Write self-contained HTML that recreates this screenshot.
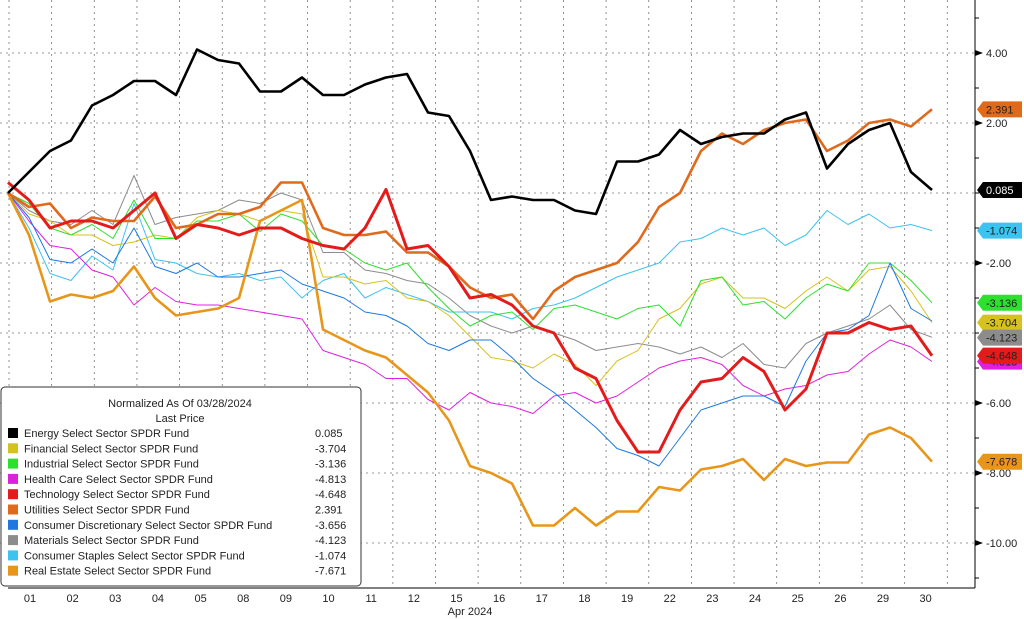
<!DOCTYPE html>
<html><head><meta charset="utf-8"><style>
body{margin:0;background:#fff;width:1024px;height:619px;overflow:hidden;font-family:"Liberation Sans",sans-serif}
svg{display:block}
</style></head><body>
<svg id="chart" width="1024" height="619" viewBox="0 0 1024 619" xmlns="http://www.w3.org/2000/svg">
<g id="grid"></g>
<g id="series"></g>
<g id="axis"></g>
<g id="xaxis"></g>
<g id="tags"></g>
<g id="legend"></g>
</svg>
<script>
const dayLabels=["01","02","03","04","05","08","09","10","11","12","15","16","17","18","19","22","23","24","25","26","29","30"];
const yTicks=[4,2,0,-2,-4,-6,-8,-10];
const yTickLabels=["4.00","2.00","","-2.00","","-6.00","-8.00","-10.00"];
const names=["Energy Select Sector SPDR Fund","Financial Select Sector SPDR Fund","Industrial Select Sector SPDR Fund","Health Care Select Sector SPDR Fund","Technology Select Sector SPDR Fund","Utilities Select Sector SPDR Fund","Consumer Discretionary Select Sector SPDR Fund","Materials Select Sector SPDR Fund","Consumer Staples Select Sector SPDR Fund","Real Estate Select Sector SPDR Fund"];
const colors=["#000000","#d6c21e","#2ee02e","#e020e0","#e41b1b","#e06a1c","#1e78e0","#8c8c8c","#3cc3ef","#e8961a"];
const widths=[2.6,1,1,1,3,2.6,1,1,1,2.6];
const lastValues=["0.085","-3.704","-3.136","-4.813","-4.648","2.391","-3.656","-4.123","-1.074","-7.671"];
const energy=[0,0.6,1.2,1.5,2.5,2.8,3.2,3.2,2.8,4.1,3.8,3.7,2.9,2.9,3.3,2.8,2.8,3.1,3.3,3.4,2.3,2.2,1.2,-0.2,-0.1,-0.2,-0.2,-0.5,-0.6,0.9,0.9,1.1,1.8,1.4,1.6,1.7,1.7,2.1,2.3,0.7,1.4,1.8,2.0,0.6,0.085];
const financial=[0,-0.6,-0.8,-1.2,-1.2,-1.5,-1.4,-1.2,-1.3,-0.7,-0.5,-0.6,-0.8,-0.5,-0.6,-2.4,-2.4,-2.6,-2.5,-3.0,-3.1,-3.5,-4.1,-4.7,-4.8,-5.0,-4.6,-4.9,-5.5,-4.8,-4.5,-3.6,-3.3,-2.6,-2.4,-3.0,-3.0,-3.3,-2.8,-2.4,-2.8,-2.2,-2.1,-2.8,-3.704];
const industrial=[0,-0.3,-1.0,-1.2,-0.9,-1.3,-0.2,-1.3,-1.3,-0.8,-0.8,-0.6,-1.1,-0.6,-0.8,-1.5,-1.6,-2.0,-2.2,-2.0,-2.7,-3.3,-3.8,-3.5,-3.4,-3.9,-3.3,-3.2,-3.4,-3.6,-3.3,-3.2,-3.8,-2.5,-2.4,-3.2,-3.1,-3.6,-3.0,-2.6,-2.8,-2.0,-2.0,-2.5,-3.136];
const healthCare=[0,-0.8,-1.5,-1.6,-2.2,-2.4,-3.2,-2.7,-3.1,-3.2,-3.2,-3.3,-3.4,-3.5,-3.6,-4.5,-4.7,-4.9,-5.3,-5.3,-5.9,-6.2,-5.7,-6.0,-6.1,-6.3,-5.8,-5.7,-6.0,-5.8,-5.4,-5.0,-4.8,-4.7,-4.9,-5.5,-5.8,-5.6,-5.5,-5.2,-5.1,-4.6,-4.2,-4.4,-4.813];
const technology=[0.3,-0.2,-1.0,-0.8,-0.8,-1.0,-0.5,0.0,-1.3,-0.9,-1.0,-1.2,-1.0,-1.0,-1.3,-1.5,-1.6,-1.0,0.1,-1.6,-1.5,-2.1,-3.0,-2.9,-3.2,-3.8,-4.0,-5.0,-5.3,-6.5,-7.4,-7.4,-6.2,-5.4,-5.3,-4.7,-5.1,-6.2,-5.6,-4.0,-4.0,-3.7,-3.9,-3.8,-4.648];
const utilities=[0,-0.4,-0.3,-1.0,-0.7,-0.8,-0.8,-0.1,-1.0,-0.9,-0.6,-0.6,-0.4,0.3,0.3,-1.0,-1.2,-1.2,-1.1,-1.7,-1.7,-2.1,-2.7,-3.0,-2.9,-3.6,-2.8,-2.4,-2.2,-2.0,-1.4,-0.4,0,1.2,1.7,1.4,1.8,2.0,2.1,1.2,1.5,2.0,2.1,1.9,2.391];
const discretionary=[0,-0.7,-1.9,-2.0,-1.6,-2.0,-1.0,-2.1,-2.3,-2.0,-2.4,-2.4,-2.3,-2.2,-2.6,-2.8,-3.0,-3.4,-3.5,-3.8,-4.3,-4.5,-4.2,-4.2,-4.7,-5.3,-5.7,-6.2,-6.7,-7.3,-7.5,-7.8,-7.0,-6.2,-6.0,-5.8,-5.8,-6.1,-4.8,-4.0,-3.9,-3.5,-2.0,-3.3,-3.656];
const materials=[0,-0.5,-0.8,-0.9,-0.5,-0.9,0.5,-0.9,-0.7,-0.6,-0.5,-0.2,-0.3,0,-0.2,-1.7,-1.7,-2.2,-2.3,-2.5,-2.6,-3.0,-3.5,-3.8,-4.0,-3.8,-4.0,-4.2,-4.5,-4.4,-4.3,-4.4,-4.6,-4.4,-4.7,-4.3,-4.9,-5.0,-4.3,-4.0,-3.8,-3.6,-3.2,-3.9,-4.123];
const staples=[0,-1.0,-2.3,-2.5,-1.8,-2.2,-0.3,-1.9,-2.0,-2.3,-2.4,-2.3,-2.5,-2.4,-3.0,-2.5,-2.3,-3.0,-2.7,-2.9,-3.1,-3.4,-3.4,-3.4,-3.6,-3.3,-3.2,-3.0,-2.7,-2.4,-2.2,-2.0,-1.4,-1.3,-1.0,-1.2,-1.0,-1.5,-1.2,-0.5,-0.9,-0.6,-1.0,-0.9,-1.074];
const realEstate=[0,-1.2,-3.1,-2.9,-3.0,-2.8,-2.1,-3.0,-3.5,-3.4,-3.3,-3.0,-0.8,-0.5,-0.2,-3.9,-4.2,-4.5,-4.7,-5.2,-5.7,-6.5,-7.8,-8.0,-8.3,-9.5,-9.5,-9.0,-9.5,-9.1,-9.1,-8.4,-8.5,-7.9,-7.8,-7.6,-8.2,-7.6,-7.8,-7.7,-7.7,-6.9,-6.7,-7.0,-7.678];
const allSeries=[energy,financial,industrial,healthCare,technology,utilities,discretionary,materials,staples,realEstate];
const drawOrder=[7,8,3,1,2,6,9,5,4,0];
const tagOrder=[5,0,8,2,1,7,4,9];

const NS="http://www.w3.org/2000/svg";
const X0=8,X1=932,AX=975,BOT=588;
const xScale=t=>X0+(X1-X0)*t/(energy.length-1);
const yScale=v=>193-35*v;
function mk(tag,attrs,parent,text){const e=document.createElementNS(NS,tag);for(const k in attrs)e.setAttribute(k,attrs[k]);if(text!==undefined)e.textContent=text;parent.appendChild(e);return e;}
const grid=document.getElementById('grid'),ser=document.getElementById('series'),ax=document.getElementById('axis'),xa=document.getElementById('xaxis'),tg=document.getElementById('tags'),lg=document.getElementById('legend');

yTicks.forEach(v=>{const l=mk('line',{x1:0,x2:AX,y1:yScale(v),y2:yScale(v),stroke:'#777','stroke-width':0.8,'stroke-dasharray':'2,4'},grid);

});
for(let i=0;i<=dayLabels.length;i++){const x=9+42.65*i;if(x>AX)break;const l=mk('line',{x1:x,x2:x,y1:0,y2:BOT,stroke:'#777','stroke-width':0.8,'stroke-dasharray':'2,4'},grid);

}

drawOrder.forEach(i=>{const d=allSeries[i].map((v,t)=>(t?'L':'M')+xScale(t).toFixed(1)+','+yScale(v).toFixed(1)).join('');
const p=mk('path',{d:d,fill:'none',stroke:colors[i],'stroke-width':widths[i],'stroke-linejoin':'round'},ser);

});

mk('line',{x1:AX,x2:AX,y1:0,y2:BOT,stroke:'#000','stroke-width':1},ax);
mk('line',{x1:8,x2:AX,y1:BOT,y2:BOT,stroke:'#000','stroke-width':1},ax);
for(let v=5;v>=-11;v--){mk('line',{x1:AX,x2:AX+4,y1:yScale(v),y2:yScale(v),stroke:'#000'},ax);}
yTicks.forEach((v,i)=>{if(!yTickLabels[i])return;const y=yScale(v);
mk('path',{d:`M${AX},${y-3}L${AX+8},${y}L${AX},${y+3}Z`,fill:'#000'},ax);
const t=mk('text',{x:AX+11,y:y+4,'font-size':11,fill:'#222'},ax,yTickLabels[i]);

});
dayLabels.forEach((d,i)=>{const t=mk('text',{x:30+42.65*i,y:602,'font-size':11,fill:'#222','text-anchor':'middle'},xa,d);

});
const xt=mk('text',{x:470,y:615,'font-size':11,fill:'#222','text-anchor':'middle'},xa,'Apr 2024');



function drawTag(i,y){const g=mk('g',{},tg);


mk('path',{d:`M${AX+2},${y}L${AX+8},${y-8}H1022V${y+8}H${AX+8}Z`,fill:colors[i]},g);
const txt=i===9?'-7.678':lastValues[i];
mk('text',{x:AX+11,y:y+4,'font-size':11,fill:i===0?'#fff':'#222'},g,txt);}
let prev=-100;const tagY={};
tagOrder.forEach(i=>{const v=allSeries[i][allSeries[i].length-1];let y=yScale(v);if(y<prev+15)y=prev+15;prev=y;tagY[i]=y;});
drawTag(3,tagY[4]+6);
tagOrder.forEach(i=>drawTag(i,tagY[i]));

mk('rect',{x:1,y:387,width:360,height:199,rx:4,fill:'#fff',stroke:'#333','stroke-width':1},lg);
mk('text',{x:180,y:407,'font-size':11,'text-anchor':'middle',fill:'#222'},lg,'Normalized As Of 03/28/2024');
mk('text',{x:180,y:422,'font-size':11,'text-anchor':'middle',fill:'#222'},lg,'Last Price');
names.forEach((n,i)=>{const y=433+15.3*i;const g=mk('g',{},lg);


mk('rect',{x:8,y:y-5,width:10,height:10,fill:colors[i]},g);
mk('text',{x:24,y:y+4,'font-size':11,fill:'#222'},g,n);
mk('text',{x:315,y:y+4,'font-size':11,fill:'#222'},g,lastValues[i]);});
</script>
</body></html>
